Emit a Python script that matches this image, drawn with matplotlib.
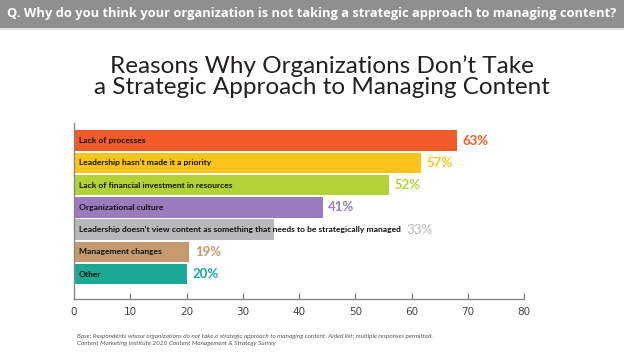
import matplotlib.pyplot as plt
from matplotlib.patches import Rectangle

# data
reasons = [
    "Lack of processes",
    "Leadership hasn't made it a priority",
    "Lack of financial investment in resources",
    "Organizational culture",
    "Leadership doesn't view content as something that needs to be strategically managed",
    "Management changes",
    "Other",
]
pct = [63, 57, 52, 41, 33, 19, 20]
# bar lengths as drawn in the original graphic (not quite to scale with the labels)
bar_len = [68, 61.6, 56, 44.2, 35.6, 20.5, 20]
colors = ["#F15A29", "#FDC519", "#B2D235", "#9A7BBE", "#B8B8BB", "#C49A6E", "#1BA996"]
xticks = [0, 10, 20, 30, 40, 50, 60, 70, 80]

question = "Q. Why do you think your organization is not taking a strategic approach to managing content?"
title = "Reasons Why Organizations Don\u2019t Take\na Strategic Approach to Managing Content"
footnote = ("Base: Respondents whose organizations do not take a strategic approach to managing content. Aided list; multiple responses permitted.\n"
            "Content Marketing Institute 2020 Content Management & Strategy Survey")

fig = plt.figure(figsize=(6.24, 3.61), dpi=100)

# grey question banner
fig.patches.append(Rectangle((0, 1 - 28 / 361), 1, 28 / 361, transform=fig.transFigure,
                             facecolor="#8F8F8F", edgecolor="none"))
fig.patches.append(Rectangle((0, 1 - 30 / 361), 1, 2 / 361, transform=fig.transFigure,
                             facecolor="#E2E2E2", edgecolor="none"))
fig.text(7 / 624, 1 - 14 / 361, question, color="white", fontsize=9.3, fontweight="bold",
         family="Open Sans", va="center", ha="left")

fig.text(322 / 624, 1 - 77 / 361, title, ha="center", va="center", fontsize=17.5,
         family="Lato", color="#231F20", linespacing=1.0)

ax = fig.add_axes([74 / 624, 62 / 361, 450 / 624, 176 / 361])
y = list(range(len(reasons)))
ax.barh(y, bar_len, height=0.92, color=colors, edgecolor="none")
ax.set_xlim(0, 80)
ax.set_ylim(7.12, -0.79)

renderer = fig.canvas.get_renderer()
inv = ax.transData.inverted()
for i in y:
    t = ax.text(0.9, i, reasons[i], va="center", ha="left", fontsize=6.1, fontweight="bold",
                family="Lato", color="#111111")
    # percentage goes after the bar, or after the label if the label runs past it
    text_end = inv.transform(t.get_window_extent(renderer).get_points())[1][0]
    xpos = max(bar_len[i], text_end) + 1.0
    light = i == 4
    ax.text(xpos, i, f"{pct[i]}%", va="center", ha="left", fontsize=9.5,
            fontweight="normal" if light else "bold", family="Lato", color=colors[i])

ax.set_xticks(xticks)
ax.set_yticks([])
ax.tick_params(axis="x", direction="in", length=4, color="#777777", labelsize=7.5,
               labelcolor="#444444", pad=6)
for s in ["top", "right"]:
    ax.spines[s].set_visible(False)
for s in ["left", "bottom"]:
    ax.spines[s].set_color("#888888")
    ax.spines[s].set_linewidth(1)

fig.text(77 / 624, 1 - 340 / 361, footnote, fontsize=4.6, style="italic", color="#555555",
         family="Lato", va="center", ha="left", linespacing=1.6)

fig.savefig("out.png", dpi=100)
